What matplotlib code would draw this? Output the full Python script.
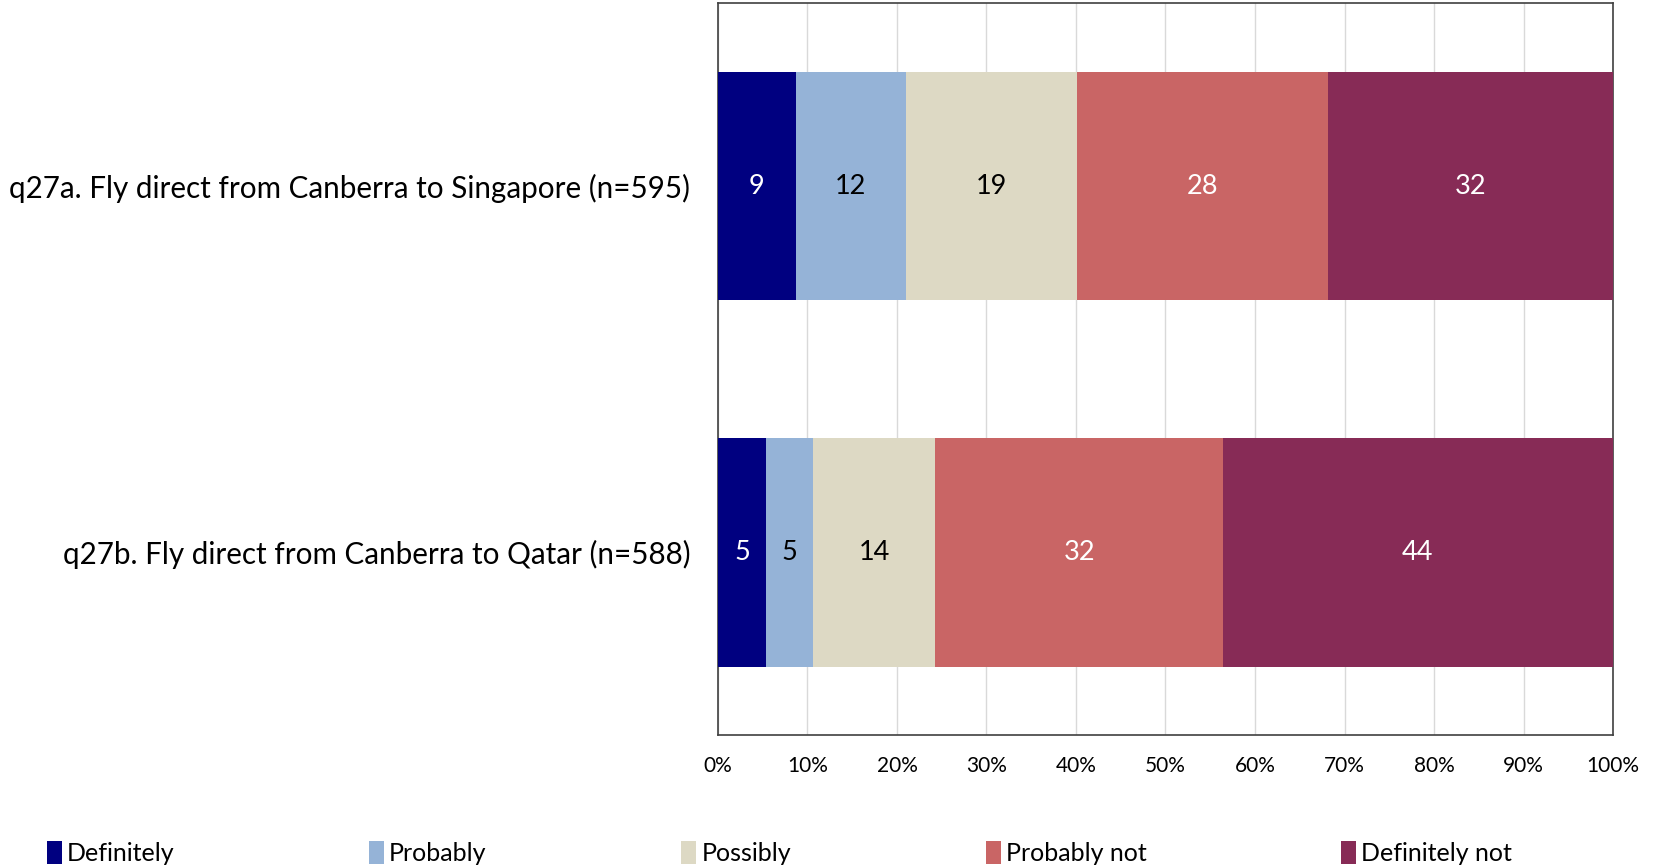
import matplotlib
matplotlib.use("Agg")
import matplotlib.pyplot as plt
import numpy as np

categories = ["q27a. Fly direct from Canberra to Singapore (n=595)",
              "q27b. Fly direct from Canberra to Qatar (n=588)"]
series_names = ["Definitely", "Probably", "Possibly", "Probably not", "Definitely not"]
definitely = [8.7, 5.4]
probably = [12.3, 5.2]
possibly = [19.1, 13.7]
probably_not = [28.1, 32.1]
definitely_not = [31.8, 43.6]
xtick_values = [0, 10, 20, 30, 40, 50, 60, 70, 80, 90, 100]
xtick_labels = [f"{v}%" for v in xtick_values]

colors = ["#000080", "#95B3D7", "#DDD9C4", "#C96565", "#872B56"]
label_colors = ["white", "black", "black", "white", "white"]

plt.rcParams['font.family'] = ['Lato', 'DejaVu Sans']

fig = plt.figure(figsize=(16.6, 8.68), dpi=100)
ax = fig.add_axes([0.4325, 0.153, 0.5392, 0.8435])

series = [definitely, probably, possibly, probably_not, definitely_not]
y = np.arange(len(categories))
left = np.zeros(len(categories))
for name, vals, c, lc in zip(series_names, series, colors, label_colors):
    vals = np.array(vals)
    ax.barh(y, vals, left=left, height=0.625, color=c, label=name, zorder=3)
    for yi, (l, v) in enumerate(zip(left, vals)):
        ax.text(l + v / 2, yi, f"{round(v):d}", ha="center", va="center",
                color=lc, fontsize=19.5, zorder=4)
    left = left + vals

ax.set_xlim(0, 100)
ax.set_ylim(1.5, -0.5)
ax.set_yticks(y)
ax.set_yticklabels(categories, fontsize=21.3)
ax.set_xticks(xtick_values)
ax.set_xticklabels(xtick_labels, fontsize=15)
ax.tick_params(axis="both", length=0)
ax.tick_params(axis="y", pad=20)
ax.tick_params(axis="x", pad=15)
ax.grid(axis="x", color="#D9D9D9", linewidth=1, zorder=0)
for s in ax.spines.values():
    s.set_color("#404040")
    s.set_linewidth(1.2)

fig.legend(loc="lower left", bbox_to_anchor=(0.019, -0.014, 0.901, 0.05), mode="expand",
           ncol=5, frameon=False, fontsize=18, handlelength=0.6, handleheight=1.0,
           handletextpad=0.2, borderaxespad=0.2)

fig.savefig("out.png", dpi=100)
